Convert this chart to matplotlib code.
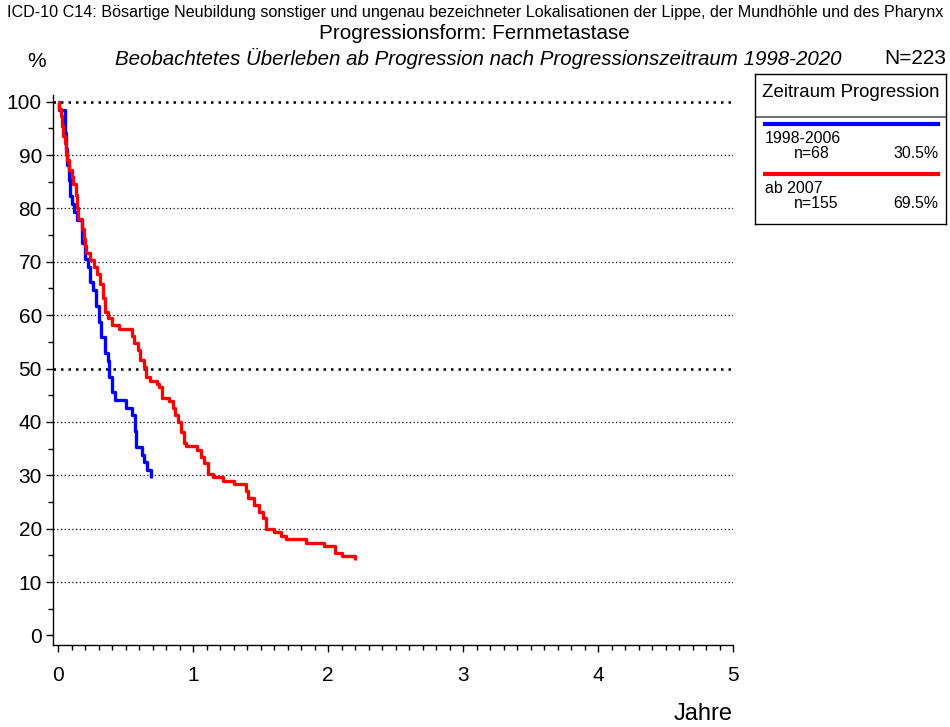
import matplotlib
matplotlib.use("Agg")
import matplotlib.pyplot as plt
from matplotlib.ticker import MultipleLocator

plt.rcParams['font.family'] = ['Liberation Sans', 'DejaVu Sans']

# Kaplan-Meier steps (time in years, survival in %)
blue_t = [0, 0.01, 0.05, 0.06, 0.07, 0.08, 0.09, 0.10, 0.12, 0.14, 0.18, 0.20, 0.22,
          0.24, 0.26, 0.28, 0.30, 0.32, 0.35, 0.37, 0.38, 0.40, 0.42, 0.50, 0.55,
          0.57, 0.58, 0.62, 0.635, 0.66, 0.69]
blue_s = [100, 98.5, 94.1, 91.2, 88.2, 85.3, 82.4, 80.9, 79.4, 77.9, 73.5, 70.6, 69.1,
          66.2, 64.7, 61.8, 58.8, 55.9, 52.9, 51.5, 48.5, 45.6, 44.1, 42.6, 41.2,
          38.2, 35.3, 33.8, 32.4, 30.9, 29.4]

red_t = [0, 0.01, 0.02, 0.03, 0.04, 0.05, 0.06, 0.07, 0.08, 0.10, 0.11, 0.13, 0.14,
         0.15, 0.18, 0.19, 0.20, 0.21, 0.24, 0.27, 0.29, 0.31, 0.33, 0.35, 0.37,
         0.40, 0.45, 0.55, 0.56, 0.59, 0.61, 0.64, 0.65, 0.68, 0.73, 0.75, 0.77,
         0.82, 0.85, 0.87, 0.89, 0.91, 0.93, 0.95, 1.03, 1.06, 1.08, 1.11, 1.15,
         1.22, 1.30, 1.39, 1.41, 1.45, 1.49, 1.52, 1.54, 1.60, 1.65, 1.69, 1.84,
         1.97, 2.05, 2.10, 2.20]
red_s = [100, 98.7, 97.4, 95.5, 93.5, 92.3, 90.3, 89.0, 87.1, 85.8, 84.5, 82.6, 80.0,
         78.1, 76.1, 74.2, 72.9, 71.6, 70.3, 69.0, 67.7, 65.8, 63.2, 60.6, 59.4,
         58.1, 57.4, 56.1, 54.8, 53.5, 51.6, 50.3, 48.4, 47.7, 47.1, 46.5, 44.5,
         43.9, 42.6, 41.3, 40.0, 38.1, 36.1, 35.5, 34.8, 33.5, 32.3, 30.3, 29.7,
         29.0, 28.4, 27.1, 25.8, 24.5, 23.2, 21.9, 20.0, 19.4, 18.7, 18.1, 17.4,
         16.8, 15.5, 14.8, 14.2]

groups = ['1998-2006', 'ab 2007']
group_n = [68, 155]
group_pct = ['30.5%', '69.5%']
colors = ['#0000ff', '#ff0000']

fig = plt.figure(figsize=(9.5, 7.27), dpi=100)
ax = fig.add_axes([0.0558, 0.1128, 0.7158, 0.7562])

ax.step(blue_t, blue_s, where='post', color=colors[0], lw=2.4, solid_capstyle='butt')
ax.step(red_t, red_s, where='post', color=colors[1], lw=2.4, solid_capstyle='butt')

ax.set_xlim(-0.037, 5.0)
ax.set_ylim(-1.8, 101.2)
for y in range(10, 101, 10):
    ax.axhline(y, color='black', ls=(0, (1, 2)), lw=1.8 if y in (50, 100) else 0.9,
               zorder=0)

for s in ['top', 'right']:
    ax.spines[s].set_visible(False)
ax.spines['left'].set_linewidth(1)
ax.spines['bottom'].set_linewidth(1)

ax.xaxis.set_major_locator(MultipleLocator(1))
ax.xaxis.set_minor_locator(MultipleLocator(0.1))
ax.yaxis.set_major_locator(MultipleLocator(10))
ax.yaxis.set_minor_locator(MultipleLocator(5))
ax.tick_params(axis='both', which='major', labelsize=15, length=5, width=1, direction='out')
ax.tick_params(axis='both', which='minor', length=3.5, width=1, direction='out')
ax.tick_params(axis='x', pad=10)
ax.tick_params(axis='y', pad=3)

fig.text(0.5, 0.983, 'ICD-10 C14: Bösartige Neubildung sonstiger und ungenau bezeichneter '
         'Lokalisationen der Lippe, der Mundhöhle und des Pharynx',
         ha='center', va='center', fontsize=11.6)
fig.text(0.499, 0.954, 'Progressionsform: Fernmetastase', ha='center', va='center', fontsize=14.9)
fig.text(0.503, 0.920, 'Beobachtetes Überleben ab Progression nach Progressionszeitraum 1998-2020',
         ha='center', va='center', fontsize=14.8, style='italic')
fig.text(0.039, 0.915, '%', ha='center', va='center', fontsize=15)
fig.text(0.996, 0.920, 'N=223', ha='right', va='center', fontsize=15)
fig.text(0.771, 0.003, 'Jahre', ha='right', va='bottom', fontsize=17)

# legend box
lg = fig.add_axes([0.795, 0.692, 0.201, 0.2063])
lg.set_xlim(0, 1)
lg.set_ylim(0, 1)
lg.set_xticks([])
lg.set_yticks([])
for s in lg.spines.values():
    s.set_linewidth(1)
lg.text(0.5, 0.873, 'Zeitraum Progression', ha='center', va='center', fontsize=13.4)
lg.axhline(0.713, color='#555555', lw=1.2)
line_y = [0.667, 0.333]
for i in range(2):
    y0 = line_y[i]
    lg.plot([0.052, 0.958], [y0, y0], color=colors[i], lw=3)
    lg.text(0.052, y0 - 0.095, groups[i], ha='left', va='center', fontsize=11.4)
    lg.text(0.2, y0 - 0.195, 'n=%d' % group_n[i], ha='left', va='center', fontsize=11.4)
    lg.text(0.958, y0 - 0.195, group_pct[i], ha='right', va='center', fontsize=11.4)

fig.savefig('out.png', dpi=100)
